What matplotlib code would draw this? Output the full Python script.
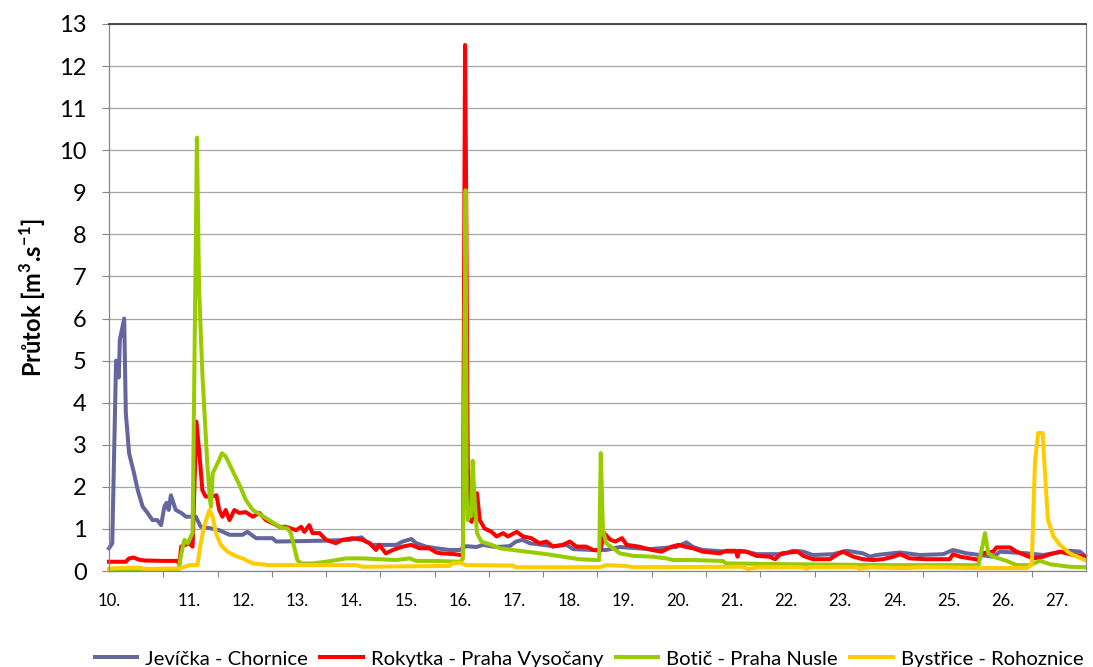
import matplotlib
matplotlib.use("Agg")
import matplotlib.pyplot as plt
from matplotlib.ticker import FixedLocator

plt.rcParams['font.family'] = ['Lato', 'DejaVu Sans']
plt.rcParams['mathtext.fontset'] = 'custom'
plt.rcParams['mathtext.bf'] = 'Lato:bold'
plt.rcParams['mathtext.rm'] = 'Lato:bold'

# day of month (fractional) and discharge in m3/s
jev_t = [10.00, 10.06, 10.13, 10.18, 10.20, 10.28, 10.31, 10.37, 10.46, 10.53, 10.62, 10.71,
         10.80, 10.89, 10.96, 11.02, 11.06, 11.10, 11.14, 11.23, 11.33, 11.42, 11.60, 11.69,
         11.85, 12.03, 12.22, 12.46, 12.55, 12.71, 13.01, 13.08, 13.94, 14.43, 14.65, 14.74,
         14.86, 15.29, 15.41, 15.57, 15.66, 15.84, 16.03, 16.27, 16.46, 16.58, 16.77, 16.89,
         17.13, 17.38, 17.50, 17.62, 17.75, 18.18, 18.43, 18.55, 18.92, 19.16, 19.41, 19.96,
         20.45, 20.64, 20.76, 20.94, 21.38, 21.74, 21.93, 22.42, 22.60, 22.79, 22.97, 23.34,
         23.59, 23.89, 24.02, 24.14, 24.57, 24.94, 25.37, 25.55, 25.80, 26.05, 26.29, 26.42,
         26.91, 27.21, 27.70, 27.89, 27.98]
jev_q = [0.54, 0.66, 5.00, 4.60, 5.50, 6.00, 3.75, 2.80, 2.33, 1.92, 1.53, 1.38,
         1.21, 1.21, 1.09, 1.53, 1.62, 1.45, 1.80, 1.45, 1.38, 1.29, 1.29, 1.05,
         1.02, 0.97, 0.86, 0.86, 0.93, 0.78, 0.78, 0.70, 0.72, 0.74, 0.80, 0.70,
         0.62, 0.62, 0.70, 0.76, 0.66, 0.58, 0.54, 0.50, 0.50, 0.59, 0.57, 0.62,
         0.57, 0.59, 0.70, 0.74, 0.66, 0.59, 0.62, 0.52, 0.50, 0.50, 0.57, 0.52,
         0.57, 0.68, 0.57, 0.50, 0.46, 0.46, 0.40, 0.40, 0.48, 0.46, 0.38, 0.40,
         0.48, 0.42, 0.34, 0.38, 0.44, 0.38, 0.40, 0.50, 0.42, 0.38, 0.34, 0.46,
         0.42, 0.38, 0.48, 0.46, 0.36]

rok_t = [10.00, 10.31, 10.37, 10.45, 10.55, 10.65, 11.00, 11.25, 11.30, 11.33, 11.48, 11.54,
         11.61, 11.67, 11.72, 11.78, 11.90, 11.98, 12.03, 12.09, 12.15, 12.22, 12.31, 12.40,
         12.52, 12.65, 12.77, 12.89, 13.01, 13.14, 13.26, 13.45, 13.54, 13.60, 13.69, 13.75,
         13.88, 14.00, 14.18, 14.30, 14.49, 14.67, 14.80, 14.92, 14.98, 15.10, 15.23, 15.41,
         15.57, 15.72, 15.90, 16.03, 16.12, 16.37, 16.48, 16.52, 16.56, 16.58, 16.61, 16.62,
         16.65, 16.68, 16.71, 16.78, 16.83, 16.92, 17.05, 17.14, 17.26, 17.35, 17.51, 17.63,
         17.78, 17.93, 18.06, 18.18, 18.36, 18.49, 18.61, 18.79, 18.92, 19.05, 19.12, 19.24,
         19.33, 19.45, 19.54, 19.76, 20.00, 20.18, 20.37, 20.49, 20.64, 20.76, 20.94, 21.25,
         21.37, 21.55, 21.58, 21.61, 21.74, 21.93, 22.17, 22.27, 22.39, 22.69, 22.79, 22.97,
         23.28, 23.40, 23.52, 23.71, 23.89, 24.08, 24.26, 24.45, 24.57, 24.75, 25.06, 25.49,
         25.55, 25.68, 25.96, 26.02, 26.08, 26.29, 26.35, 26.60, 26.72, 26.91, 27.03, 27.21,
         27.34, 27.52, 27.70, 27.98]
rok_q = [0.22, 0.22, 0.30, 0.32, 0.27, 0.25, 0.24, 0.24, 0.18, 0.58, 0.66, 0.58,
         3.55, 2.72, 1.92, 1.77, 1.77, 1.80, 1.45, 1.29, 1.45, 1.21, 1.45, 1.38,
         1.40, 1.29, 1.38, 1.21, 1.14, 1.05, 1.05, 0.97, 1.05, 0.93, 1.09, 0.90,
         0.90, 0.74, 0.66, 0.74, 0.78, 0.74, 0.66, 0.50, 0.62, 0.42, 0.50, 0.58,
         0.62, 0.54, 0.54, 0.44, 0.42, 0.40, 0.38, 0.40, 12.50, 9.00, 2.50, 2.08,
         1.21, 1.17, 1.45, 1.85, 1.21, 1.01, 0.93, 0.82, 0.90, 0.82, 0.93, 0.82,
         0.78, 0.66, 0.70, 0.58, 0.62, 0.70, 0.58, 0.58, 0.50, 0.48, 0.90, 0.74,
         0.70, 0.78, 0.62, 0.58, 0.50, 0.46, 0.58, 0.62, 0.57, 0.54, 0.46, 0.42,
         0.48, 0.48, 0.34, 0.48, 0.46, 0.36, 0.34, 0.28, 0.42, 0.46, 0.36, 0.28,
         0.28, 0.38, 0.46, 0.34, 0.28, 0.26, 0.28, 0.34, 0.40, 0.30, 0.28, 0.28,
         0.40, 0.34, 0.28, 0.26, 0.42, 0.46, 0.56, 0.56, 0.46, 0.36, 0.30, 0.34,
         0.40, 0.46, 0.40, 0.34]

bot_t = [10.00, 11.28, 11.33, 11.39, 11.45, 11.54, 11.62, 11.66, 11.72, 11.81, 11.86, 11.88,
         11.91, 11.97, 12.03, 12.08, 12.15, 12.24, 12.33, 12.42, 12.52, 12.65, 12.80, 12.95,
         13.14, 13.29, 13.35, 13.41, 13.47, 13.54, 13.75, 14.00, 14.37, 14.67, 15.29, 15.54,
         15.66, 16.00, 16.48, 16.52, 16.57, 16.59, 16.61, 16.65, 16.67, 16.70, 16.74, 16.78,
         16.86, 17.05, 17.20, 17.44, 17.69, 18.06, 18.36, 18.67, 18.98, 19.03, 19.06, 19.10,
         19.16, 19.29, 19.41, 19.66, 20.02, 20.27, 20.39, 20.49, 20.76, 21.31, 21.37, 22.60,
         24.45, 26.02, 26.14, 26.20, 26.29, 26.54, 26.72, 26.97, 27.15, 27.34, 27.70, 27.98]
bot_q = [0.02, 0.03, 0.40, 0.74, 0.66, 0.90, 10.30, 6.70, 4.70, 2.56, 1.69, 1.53,
         2.32, 2.48, 2.64, 2.80, 2.72, 2.48, 2.24, 2.00, 1.69, 1.45, 1.33, 1.21,
         1.05, 1.01, 0.90, 0.58, 0.26, 0.18, 0.18, 0.22, 0.30, 0.30, 0.26, 0.30,
         0.24, 0.24, 0.22, 0.30, 9.05, 1.80, 1.21, 1.45, 1.30, 2.62, 1.61, 0.90,
         0.70, 0.62, 0.54, 0.50, 0.46, 0.40, 0.34, 0.28, 0.26, 0.26, 2.80, 0.97,
         0.66, 0.54, 0.42, 0.36, 0.34, 0.30, 0.26, 0.26, 0.26, 0.24, 0.18, 0.16,
         0.14, 0.14, 0.90, 0.42, 0.34, 0.24, 0.14, 0.14, 0.24, 0.16, 0.10, 0.09]

bys_t = [10.00, 10.15, 10.55, 10.70, 11.30, 11.48, 11.63, 11.69, 11.75, 11.85, 11.91, 11.97,
         12.06, 12.18, 12.33, 12.46, 12.65, 12.95, 14.55, 14.67, 16.27, 16.33, 16.46, 16.58,
         17.44, 17.50, 19.04, 19.16, 19.53, 19.66, 21.68, 21.77, 21.99, 22.78, 22.85, 22.91,
         23.77, 23.83, 24.02, 24.63, 25.06, 25.98, 26.91, 27.00, 27.06, 27.12, 27.20, 27.26,
         27.30, 27.40, 27.52, 27.70, 27.98]
bys_q = [0.05, 0.07, 0.08, 0.05, 0.06, 0.14, 0.14, 0.66, 1.05, 1.45, 1.29, 0.90,
         0.62, 0.46, 0.36, 0.30, 0.18, 0.14, 0.14, 0.10, 0.12, 0.18, 0.20, 0.14,
         0.13, 0.09, 0.09, 0.14, 0.12, 0.09, 0.10, 0.05, 0.09, 0.09, 0.05, 0.09,
         0.09, 0.05, 0.09, 0.07, 0.09, 0.07, 0.07, 0.14, 2.60, 3.28, 3.28, 2.00,
         1.21, 0.82, 0.62, 0.42, 0.26]

series = [
    ("Jevíčka - Chornice", jev_t, jev_q, "#66669f"),
    ("Rokytka - Praha Vysočany", rok_t, rok_q, "#ff0000"),
    ("Botič - Praha Nusle", bot_t, bot_q, "#99cc00"),
    ("Bystřice - Rohoznice", bys_t, bys_q, "#ffcc00"),
]

days = list(range(10, 28))
day_labels = [f"{d}." for d in days]

fig = plt.figure(figsize=(10.93, 6.67), dpi=100)
ax = fig.add_axes([109 / 1093, 96 / 667, 977 / 1093, 547 / 667])

for name, t, q, col in series:
    ax.plot(t, q, color=col, lw=2.9, label=name, clip_on=False, solid_joinstyle='round')

ax.set_xlim(10, 28)
ax.set_ylim(0, 13)

# y axis
ax.set_yticks(range(0, 14))
ax.tick_params(axis='y', length=5, width=0.8, color='#868686', pad=11, labelsize=17)
ax.yaxis.grid(True, color='#a6a6a6', lw=0.9)
ax.set_axisbelow(True)

# x axis: ticks at midnight, labels around noon
lab_pos = [10.0] + [d + 0.47 for d in days[1:]]
ax.xaxis.set_major_locator(FixedLocator(lab_pos))
ax.set_xticklabels(day_labels)
ax.xaxis.set_minor_locator(FixedLocator(days[1:]))
ax.tick_params(axis='x', which='major', length=0, pad=16, labelsize=12)
ax.tick_params(axis='x', which='minor', length=4, width=0.8, color='#868686')

for side in ['left', 'bottom', 'right']:
    ax.spines[side].set_color('#868686')
    ax.spines[side].set_linewidth(0.9)
ax.spines['top'].set_color('#404040')
ax.spines['top'].set_linewidth(1.3)

ax.set_ylabel(r'Průtok [m$^{\mathbf{3}}$.s$^{\mathbf{-1}}$]', fontsize=17, fontweight='bold')
ax.yaxis.set_label_coords(-0.062, 0.5)

fig.legend(loc='center', bbox_to_anchor=(0.539, 0.012), ncol=4, frameon=False,
           fontsize=14.6, handlelength=2.1, handletextpad=0.4, columnspacing=0.6,
           borderaxespad=0)

fig.savefig("out.png", dpi=100)
